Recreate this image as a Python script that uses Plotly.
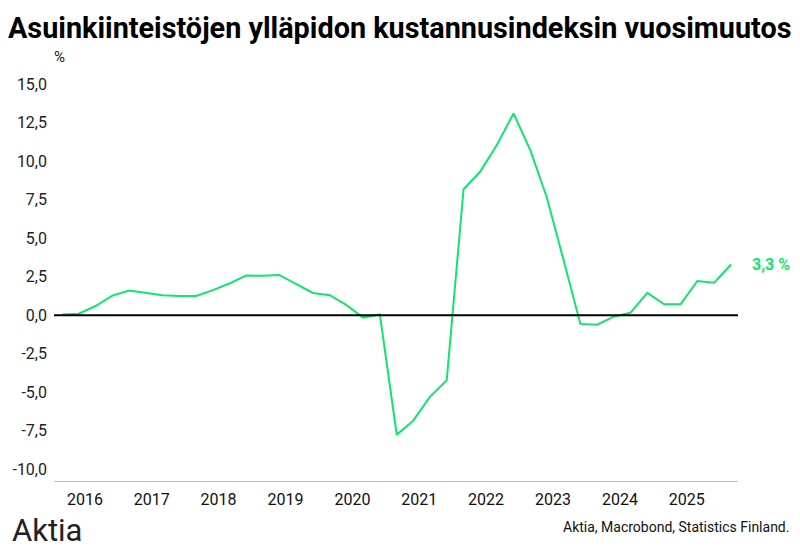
import plotly.graph_objects as go

# Quarterly observations (plotted mid-quarter), 2016Q1 onwards
quarter_dates = [f"{2016 + i // 4}-{2 + 3 * (i % 4):02d}-15" for i in range(41)]
yoy_change = [
    0.05, 0.1, 0.6, 1.28,
    1.6, 1.43, 1.3, 1.25,
    1.25, 1.62, 2.06, 2.58,
    2.56, 2.62, 2.05, 1.45,
    1.3, 0.67, -0.15, 0.05,
    -7.75, -6.86, -5.3, -4.22,
    8.18, 9.3, 11.04, 13.1,
    10.71, 7.68, 3.6, -0.56,
    -0.61, -0.09, 0.17, 1.45,
    0.71, 0.71, 2.23, 2.12,
    3.3,
]
y_tick_vals = [-10, -7.5, -5, -2.5, 0, 2.5, 5, 7.5, 10, 12.5, 15]
y_tick_text = ["-10,0", "-7,5", "-5,0", "-2,5", "0,0", "2,5", "5,0", "7,5", "10,0", "12,5", "15,0"]
year_labels = ["2016", "2017", "2018", "2019", "2020", "2021", "2022", "2023", "2024", "2025"]
year_tick_vals = [f"{y}-06-18" for y in year_labels]
last_label = "3,3 %"

GREEN = "#12e46e"
FONT = "Roboto"

# plot area in pixels: left 49, right 738, top 75, bottom 481
PW, PH = 689, 406


def px(x):
    return (x - 49) / PW


def py(y):
    return (481 - y) / PH


fig = go.Figure()
fig.add_trace(go.Scatter(
    x=quarter_dates, y=yoy_change, mode="lines",
    line=dict(color=GREEN, width=2), hoverinfo="skip", showlegend=False,
))

fig.add_hline(y=0, line=dict(color="black", width=2))

fig.update_layout(
    width=800, height=550,
    margin=dict(l=49, r=62, t=75, b=69),
    paper_bgcolor="white", plot_bgcolor="white",
    font=dict(family=FONT, color="#222"),
    title=dict(
        text="<b>Asuinkiinteistöjen ylläpidon kustannusindeksin vuosimuutos</b>",
        x=0.01, xanchor="left", y=0.95, yanchor="middle",
        font=dict(family=FONT, size=28.8, color="black"),
    ),
    xaxis=dict(
        type="date", range=["2016-01-01", "2026-03-25"],
        tickvals=year_tick_vals, ticktext=year_labels,
        showgrid=False, zeroline=False,
        showline=True, linecolor="#bbbbbb", linewidth=1,
        ticks="", tickfont=dict(size=16, color="#111"),
        ticklabelstandoff=4,
    ),
    yaxis=dict(
        range=[-10.76, 15.6],
        tickvals=y_tick_vals, ticktext=y_tick_text,
        showgrid=False, zeroline=False, showline=False,
        ticks="", tickfont=dict(size=16, color="#222"),
        ticklabelstandoff=6,
    ),
    annotations=[
        dict(text="%", xref="paper", yref="paper", x=px(55), y=py(57),
             xanchor="center", yanchor="middle", showarrow=False,
             font=dict(size=15, color="#222")),
        dict(text=f"<b>{last_label}</b>", xref="paper", yref="y",
             x=px(750), y=yoy_change[-1], xanchor="left", yanchor="middle",
             showarrow=False, font=dict(size=16, color=GREEN)),
        dict(text="Aktia", xref="paper", yref="paper", x=px(5), y=py(530),
             xanchor="left", yanchor="middle", showarrow=False,
             font=dict(size=31, color="#222")),
        dict(text="Aktia, Macrobond, Statistics Finland.", xref="paper", yref="paper",
             x=px(791), y=py(527), xanchor="right", yanchor="middle",
             showarrow=False, font=dict(size=14, color="#111")),
    ],
)

fig.write_html("out.html")
